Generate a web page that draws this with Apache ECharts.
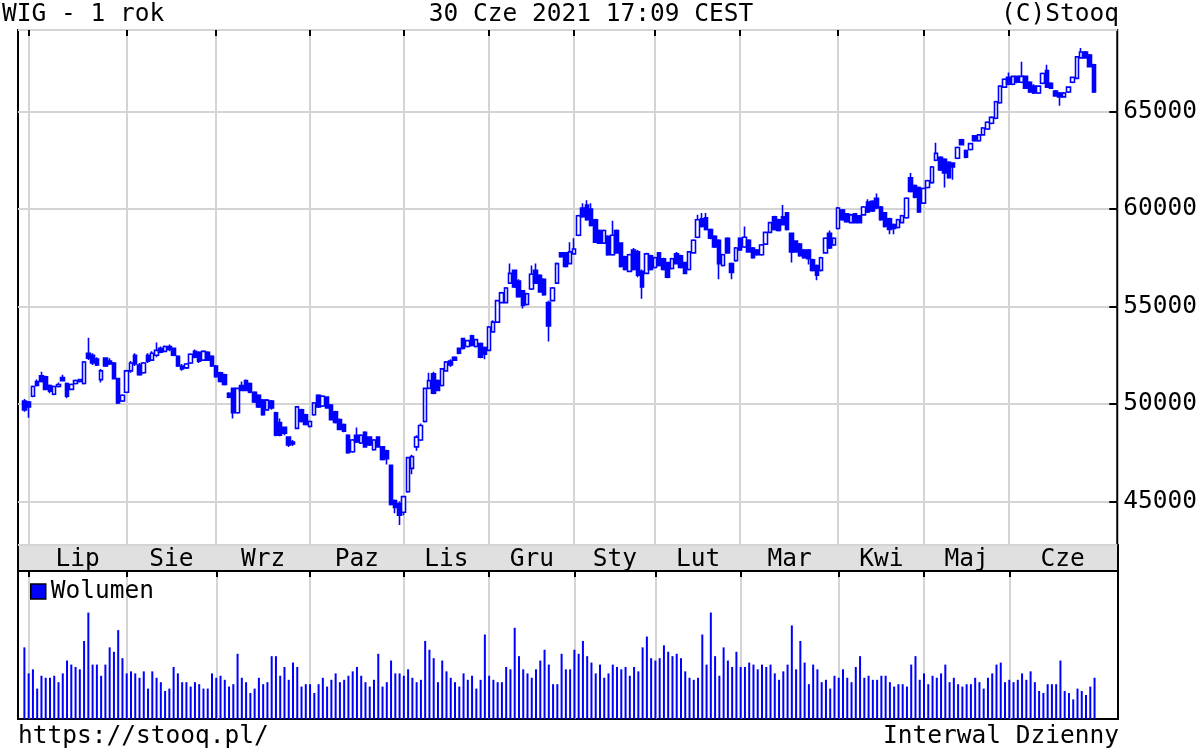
<!DOCTYPE html>
<html><head><meta charset="utf-8">
<script src="https://cdn.jsdelivr.net/npm/echarts@6/dist/echarts.min.js"></script>
<style>html,body{margin:0;padding:0;background:#fff}#c{width:1200px;height:750px}</style>
</head><body><div id="c"></div>
<script>
const FONT = 'DejaVu Sans Mono';
const BLUE = '#0000ff';
const GRIDC = '#d4d4d4';

// trading calendar (WSE) from 2020-06-30 to 2021-06-30
const startDate = '2020-06-30';
const endDate = '2021-06-30';
const holidays = ['2020-11-11','2020-12-24','2020-12-25','2020-12-31','2021-01-01','2021-01-06','2021-04-02','2021-04-05','2021-05-03','2021-06-03'];
const monthNames = {'01':'Sty','02':'Lut','03':'Mar','04':'Kwi','05':'Maj','06':'Cze','07':'Lip','08':'Sie','09':'Wrz','10':'Paz','11':'Lis','12':'Gru'};
const yTicks = [45000, 50000, 55000, 60000, 65000];

// daily candles [open, close, low, high]
const ohlc = [
[50150,49700,49600,50250],[50100,49850,49300,50150],[50400,50900,50350,50950],[51150,50950,50900,51250],[51450,51150,51100,51650],
[51400,50750,50700,51450],[50950,50650,50550,51000],[50500,50900,50450,50950],[50900,51000,50850,51100],[51350,51200,51150,51500],
[51050,50400,50300,51100],[50750,51000,50700,51050],[51050,51200,51000,51250],[51150,51250,51100,51300],[51050,52150,51000,52200],
[52600,52350,52250,53400],[52500,52100,52000,52600],[52300,52000,51950,52400],[51250,51700,51100,51800],[52350,51950,51900,52400],
[52200,52050,52000,52350],[52100,51300,51250,52150],[51300,50050,50000,51350],[50150,50450,50100,50500],[50600,51700,50550,51750],
[51700,52100,51600,52200],[52500,52050,51950,52600],[52000,51500,51450,52100],[51600,52100,51550,52150],[52500,52200,52100,52600],
[52250,52600,52200,52700],[52500,52750,52400,53150],[52850,52650,52600,52950],[52700,52950,52650,53000],[52950,52800,52700,53050],
[52850,52500,52450,52900],[52450,51950,51900,52500],[51950,51800,51700,52050],[51850,52050,51800,52100],[52100,52550,52050,52600],
[52700,52400,52350,52800],[52650,52200,52100,52700],[52250,52700,52200,52750],[52650,52250,52200,52700],[52450,51950,51900,52500],
[51950,51400,51350,52000],[51600,51150,51100,51650],[51500,51000,50950,51550],[50550,50350,50300,50600],[50800,49550,49250,50850],
[49550,50800,49500,50850],[50950,50700,50650,51150],[51200,50700,50650,51250],[51050,50600,50550,51100],[50600,50100,50050,50650],
[50450,49850,49800,50500],[50200,49450,49400,50250],[49700,50200,49650,50250],[50150,49800,49700,50200],[49550,48400,48350,49600],
[49050,48400,48350,49250],[48800,48500,48400,48850],[48300,47900,47800,48350],[48050,47950,47850,48150],[48750,49850,48700,49900],
[49700,49100,49050,49750],[49450,48950,48900,49500],[48850,49100,48800,49150],[49450,50050,49400,50100],[50450,49850,49800,50500],
[49900,50400,49850,50450],[50350,49800,49750,50400],[49950,49200,49150,50000],[49600,49050,49000,49650],[49200,48700,48650,49250],
[48950,48600,48550,49000],[48400,47500,47450,48450],[47550,48150,47500,48200],[48400,48050,48000,48800],[48000,48400,47950,48450],
[48550,47800,47750,48600],[48300,47900,47850,48350],[47650,48150,47600,48200],[48300,47800,47750,48350],[47800,47150,47100,47850],
[47600,47200,46900,47650],[46850,44850,44800,46900],[45050,44700,44400,45100],[44900,44300,43800,45000],[44450,45250,44300,45300],
[45500,47250,45450,47300],[46700,47300,46400,47400],[47800,48300,47600,48400],[48150,48900,48100,49000],[49100,50800,49050,50850],
[50800,51200,50750,51600],[51550,50550,50500,51650],[51200,50700,50650,51250],[50950,51800,50900,51850],[51700,52150,51650,52200],
[52200,52000,51900,52300],[52400,52250,52200,52450],[52850,52600,52550,52900],[53350,52850,52800,53400],[52950,53250,52900,53300],
[53500,53000,52950,53550],[52950,53300,52900,53350],[53100,52400,52350,53150],[52900,52550,52300,52950],[52750,53950,52700,54000],
[53700,54200,53650,54300],[54200,55300,54150,55350],[55200,55700,55150,55750],[55200,55950,55150,56000],[56200,56700,56150,57200],
[56850,56000,55950,56900],[56300,55500,55450,56400],[55800,55050,54900,55850],[55100,55650,55050,55700],[55900,56650,55850,57100],
[56850,56200,56150,57200],[56600,55750,55700,56650],[56400,55600,55550,56450],[55200,54000,53200,55300],[55300,55950,55250,56000],
[56200,57200,56150,57250],[57750,57550,57500,57800],[57750,57050,57000,57800],[57200,57800,57150,58300],[57700,57950,57650,58500],
[58650,59650,58600,59700],[60050,59600,59550,60300],[60200,59450,59400,60450],[60000,59150,59100,60300],[59450,58300,58250,59500],
[58900,58250,58200,58950],[58250,58900,58200,58950],[58600,57650,57600,58650],[57650,58650,57600,59400],[58900,57750,57700,58950],
[58250,57050,57000,58300],[57550,56900,56850,57600],[56800,57650,56750,57700],[57900,56900,56850,58000],[57800,56600,56500,57900],
[56800,56000,55400,56900],[56700,57700,56650,57750],[57600,56900,56850,57650],[57000,57500,56950,57550],[57750,57100,57050,57800],
[57450,56900,56850,57500],[57250,56500,56450,57300],[56950,57450,56900,57500],[57700,57200,57150,57800],[57600,57000,56950,57650],
[57250,56700,56650,57300],[56900,57800,56850,57850],[57750,58400,57700,58450],[58550,59450,58500,59700],[59500,59100,59050,59800],
[59550,58950,58900,59800],[58950,58500,58450,59000],[58600,58050,58000,58650],[58400,57200,56400,58450],[57100,57650,57050,57700],
[58500,57750,57700,58550],[57200,56750,56400,57250],[57350,58000,57300,58050],[58500,57900,57850,58550],[58050,58550,58000,59100],
[58400,57800,57750,58450],[58000,57500,57450,58050],[57900,57650,57600,57950],[57650,58150,57600,58200],[58200,58800,58150,58850],
[58800,59300,58750,59350],[59600,58950,58900,59650],[59450,58900,58850,59500],[59600,59200,59150,60200],[59800,58950,58900,59850],
[58750,57800,57250,58800],[58350,57800,57750,58400],[58200,57600,57550,58250],[57900,57500,57450,57950],[57900,57450,57150,57950],
[57400,56850,56800,57450],[57100,56600,56350,57150],[56850,57500,56800,57550],[57750,58500,57700,58550],[58750,58000,57950,58900],
[58150,58500,58100,58550],[59000,60050,58950,60100],[59950,59450,59400,60000],[59750,59350,59300,59800],[59300,59700,59250,59750],
[59750,59300,59250,59800],[59650,59300,59250,59700],[59700,60100,59650,60150],[60350,59850,59800,60500],[60400,59900,59850,60450],
[60550,60050,60000,60800],[60100,59450,59400,60150],[59800,59100,59050,59850],[59500,58950,58700,59550],[59200,59000,58700,59250],
[59050,59450,59000,59500],[59300,59650,59250,59700],[59550,60550,59500,60600],[61600,60900,60850,61850],[61200,60600,60550,61250],
[61100,59850,59800,61150],[60300,61050,60250,61100],[61100,61450,61050,61500],[61350,62150,61300,62200],[62500,62850,62450,63400],
[62650,62000,61950,62700],[62550,61850,61100,62600],[62400,61600,61550,62450],[62350,62150,61500,62400],[62600,63150,62550,63200],
[63550,63300,63250,63600],[63000,62650,62600,63050],[63050,63350,63000,63400],[63750,63500,63450,63800],[63500,63800,63450,63850],
[63800,64150,63750,64200],[64100,64450,64050,64500],[64400,64700,64350,64750],[64650,65500,64600,65550],[65450,66300,65400,66350],
[66250,66650,66200,66700],[66750,66400,66350,67000],[66400,66800,66350,66850],[66800,66500,66450,66850],[66500,66800,66450,67550],
[66800,66200,66150,66850],[66500,66000,65950,66550],[66300,65950,65900,66400],[65950,66300,65900,66350],[66450,66950,66400,67000],
[67100,66250,66200,67400],[66450,66200,66150,66500],[66050,65800,65750,66100],[65950,65750,65300,66000],[65750,65950,65700,66000],
[66000,66250,65950,66300],[66500,66750,66450,66800],[66700,67800,66650,67850],[67750,68050,67700,68250],[68050,67750,67700,68100],
[67900,67300,67250,67950],[67400,66000,65950,67450]
];

// relative daily volume (no axis in the source)
const volume = [
212,135,147,90,128,122,122,128,109,135,173,161,154,147,231,315,161,161,128,161,
212,199,263,180,135,141,135,122,141,90,141,122,109,83,90,154,135,109,109,96,
109,103,90,90,135,122,128,116,96,103,193,122,109,77,90,122,103,109,186,186,
128,154,116,167,154,96,103,103,77,103,122,96,116,135,109,116,128,141,154,128,
109,96,116,193,96,109,173,135,135,128,147,122,109,116,231,205,180,109,173,141,
122,109,96,135,116,128,90,116,250,128,116,109,109,154,147,270,186,147,135,122,
147,173,205,161,103,103,193,147,147,205,193,231,186,167,135,161,122,135,161,154,
147,154,128,154,141,212,244,180,173,180,218,199,186,193,180,141,122,116,122,250,
161,315,186,128,212,173,154,199,154,154,167,161,147,161,154,161,135,116,141,161,
277,147,231,167,103,161,147,109,116,90,128,122,147,122,109,154,186,122,128,116,
116,128,128,109,96,103,103,96,161,186,116,135,103,128,122,135,161,109,122,103,
96,103,103,122,109,90,122,135,161,167,109,116,109,116,135,116,141,109,83,77,
103,103,103,173,83,77,58,90,83,71,96,122
];

const padBefore = 1, padAfter = 5;

function isoDay(d) { return d.toISOString().slice(0, 10); }
function buildTradingDays() {
  const out = [];
  const d = new Date(startDate + 'T00:00:00Z');
  const end = new Date(endDate + 'T00:00:00Z');
  while (d <= end) {
    const wd = d.getUTCDay();
    const s = isoDay(d);
    if (wd !== 0 && wd !== 6 && holidays.indexOf(s) < 0) out.push(s);
    d.setUTCDate(d.getUTCDate() + 1);
  }
  return out;
}
const days = buildTradingDays();
const categories = [];
for (let i = 0; i < padBefore; i++) categories.push('pre' + i);
days.forEach(d => categories.push(d));
for (let i = 0; i < padAfter; i++) categories.push('post' + i);
const nSlots = categories.length;

// month starts (slot indices) and labels
const monthStarts = [];
days.forEach((d, i) => { if (i > 0 && d.slice(5, 7) !== days[i - 1].slice(5, 7)) monthStarts.push({ slot: i + padBefore, m: d.slice(5, 7) }); });
// half-slot axis: point j sits at slot-boundary/center positions; slot s center = 2s+1
const halfCats = [];
for (let j = 0; j <= 2 * nSlots; j++) halfCats.push('h' + j);
const lineIdx = {};
monthStarts.forEach(ms => { lineIdx[2 * ms.slot + 1] = true; });
const labelAt = {};
monthStarts.forEach((ms, k) => {
  const a = ms.slot;
  const b = k + 1 < monthStarts.length ? monthStarts[k + 1].slot : nSlots - 0.5;
  labelAt[Math.floor(a + b + 1)] = monthNames[ms.m];
});

const candleData = [];
for (let i = 0; i < padBefore; i++) candleData.push('-');
ohlc.forEach(r => candleData.push(r));
const volData = [];
for (let i = 0; i < padBefore; i++) volData.push('-');
volume.forEach(v => volData.push(v));

const L = 18, R = 82;
const chart = echarts.init(document.getElementById('c'), null, { renderer: 'canvas' });
const txt = (text, x, y, align) => ({ type: 'text', x: x, y: y, silent: true,
  style: { text: text, fill: '#000', font: '24.5px "' + FONT + '"', textAlign: align, textVerticalAlign: 'middle' } });

chart.setOption({
  animation: false,
  backgroundColor: '#fff',
  textStyle: { fontFamily: FONT },
  grid: [
    { left: L, right: R, top: 30, height: 515, show: true, borderColor: '#000', borderWidth: 2, backgroundColor: '#fff' },
    { left: L, right: R, top: 545, height: 26, show: true, borderColor: '#000', borderWidth: 2, backgroundColor: '#e0e0e0' },
    { left: L, right: R, top: 571, height: 148, show: true, borderColor: '#000', borderWidth: 2, backgroundColor: '#fff' }
  ],
  xAxis: [
    { gridIndex: 0, type: 'category', data: categories, boundaryGap: true, position: 'bottom',
      axisLine: { show: false }, axisTick: { show: false }, axisLabel: { show: false }, splitLine: { show: false } },
    { gridIndex: 0, type: 'category', data: halfCats, boundaryGap: false, position: 'top',
      axisLine: { show: false }, axisLabel: { show: false },
      axisTick: { show: true, inside: true, length: 6, interval: (i) => !!lineIdx[i], lineStyle: { color: '#000', width: 2 } },
      splitLine: { show: true, interval: (i) => !!lineIdx[i], lineStyle: { color: GRIDC, width: 2 } } },
    { gridIndex: 1, type: 'category', data: halfCats, boundaryGap: false, position: 'top',
      axisLine: { show: false }, axisTick: { show: false }, splitLine: { show: false },
      axisLabel: { show: true, inside: true, margin: 2, interval: (i) => labelAt[i] !== undefined,
        formatter: (v, i) => labelAt[i] || '', color: '#000', fontFamily: FONT, fontSize: 24.5 } },
    { gridIndex: 2, type: 'category', data: categories, boundaryGap: true, position: 'bottom',
      axisLine: { show: false }, axisTick: { show: false }, axisLabel: { show: false }, splitLine: { show: false } },
    { gridIndex: 2, type: 'category', data: halfCats, boundaryGap: false, position: 'top',
      axisLine: { show: false }, axisLabel: { show: false },
      axisTick: { show: true, inside: true, length: 6, interval: (i) => !!lineIdx[i], lineStyle: { color: '#000', width: 2 } },
      splitLine: { show: true, interval: (i) => !!lineIdx[i], lineStyle: { color: GRIDC, width: 2 } } }
  ],
  yAxis: [
    { gridIndex: 0, type: 'value', position: 'right', min: 42769, max: 69179, scale: true,
      axisLine: { show: false },
      axisTick: { show: true, inside: true, length: 8, lineStyle: { color: '#000', width: 2 } },
      axisLabel: { show: true, margin: 6, color: '#000', fontFamily: FONT, fontSize: 24.5, showMinLabel: false, showMaxLabel: false,
        formatter: (v) => yTicks.indexOf(v) >= 0 ? String(v) : '' },
      splitLine: { show: true, lineStyle: { color: GRIDC, width: 2 } } },
    { gridIndex: 1, type: 'value', show: false },
    { gridIndex: 2, type: 'value', min: 0, max: 438, show: false, splitLine: { show: false } }
  ],
  legend: { data: [{ name: 'Wolumen', icon: 'rect', itemStyle: { color: BLUE, borderColor: '#000', borderWidth: 1.5 } }],
    left: 30, top: 579, padding: 0, itemWidth: 15, itemHeight: 15, selectedMode: false,
    textStyle: { color: '#000', fontFamily: FONT, fontSize: 24.5 } },
  graphic: [
    txt('WIG - 1 rok', 2, 15, 'left'),
    txt('30 Cze 2021 17:09 CEST', 591, 15, 'center'),
    txt('(C)Stooq', 1119, 15, 'right'),
    txt('https://stooq.pl/', 18, 737, 'left'),
    txt('Interwal Dzienny', 1119, 737, 'right')
  ],
  series: [
    { name: 'WIG', type: 'candlestick', xAxisIndex: 0, yAxisIndex: 0, data: candleData, barWidth: 4, z: 3,
      itemStyle: { color: '#ffffff', color0: BLUE, borderColor: BLUE, borderColor0: BLUE, borderWidth: 1.6 } },
    { name: 'Wolumen', type: 'bar', xAxisIndex: 3, yAxisIndex: 2, data: volData, barWidth: 2, z: 3,
      itemStyle: { color: BLUE } }
  ]
});
</script></body></html>
